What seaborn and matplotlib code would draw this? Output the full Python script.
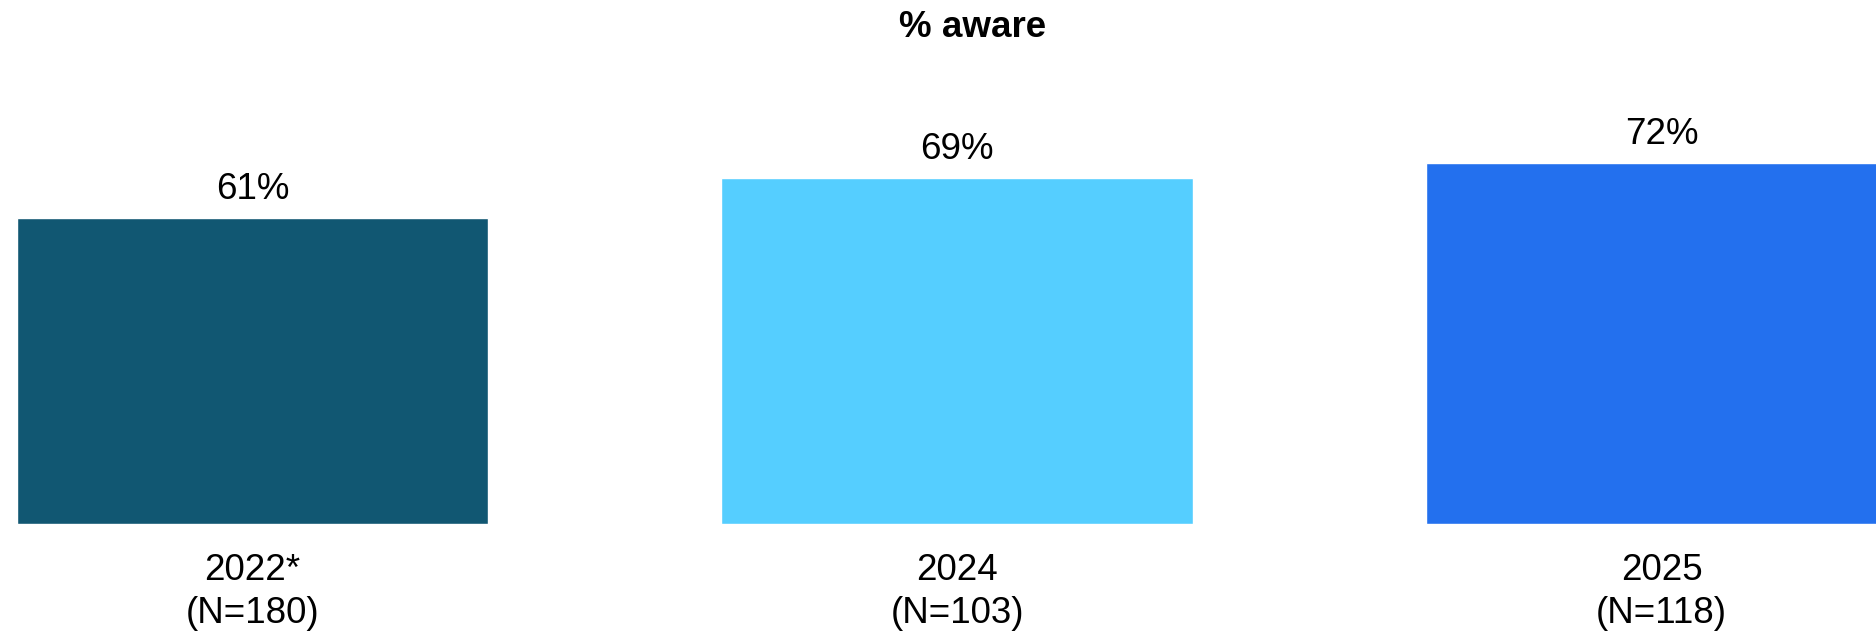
import matplotlib
matplotlib.use("Agg")
import matplotlib.pyplot as plt
import seaborn as sns
import pandas as pd

# Survey waves and share of respondents aware
years = ["2022*", "2024", "2025"]
sample_sizes = [180, 103, 118]
aware_pct = [61, 69, 72]
bar_colors = ["#115772", "#55CEFF", "#2370EE"]

tick_labels = [f"{y}\n(N={n})" for y, n in zip(years, sample_sizes)]

sns.set_theme(style="white")
plt.rcParams["font.family"] = ["Liberation Sans", "DejaVu Sans"]

W, H, DPI = 1876, 631, 100
fig = plt.figure(figsize=(W / DPI, H / DPI), dpi=DPI)

base_px = 107          # distance of the bar baseline from the figure bottom
plot_h_px = 501        # height of the 0-100 range
ax = fig.add_axes([0, base_px / H, 1, plot_h_px / H])

df = pd.DataFrame({"year": years, "pct": aware_pct})
sns.barplot(data=df, x="year", y="pct", hue="year", palette=bar_colors,
            width=0.669, legend=False, ax=ax, saturation=1)

spacing_px = 704.5
first_center_px = 252.5
ax.set_xlim(-first_center_px / spacing_px, (W - first_center_px) / spacing_px)
ax.set_ylim(0, 100)

# value labels above each bar
for i, v in enumerate(aware_pct):
    ax.annotate(f"{v}%", xy=(i, v), xytext=(0, 13.7), textcoords="offset points",
                ha="center", va="baseline", fontsize=26.5, color="black",
                annotation_clip=False)

ax.set_xticks(range(len(years)))
ax.set_xticklabels(tick_labels, fontsize=26.5, color="black", linespacing=1.3)
ax.tick_params(axis="x", length=0, pad=21.0)
ax.set_yticks([])
ax.set_xlabel("")
ax.set_ylabel("")
for s in ax.spines.values():
    s.set_visible(False)
ax.patch.set_alpha(0)

fig.text(973 / W, 1 - 37 / H, "% aware", ha="center", va="baseline",
         fontsize=26.5, fontweight="bold", color="black")

fig.savefig("out.png", dpi=DPI, facecolor="white")
